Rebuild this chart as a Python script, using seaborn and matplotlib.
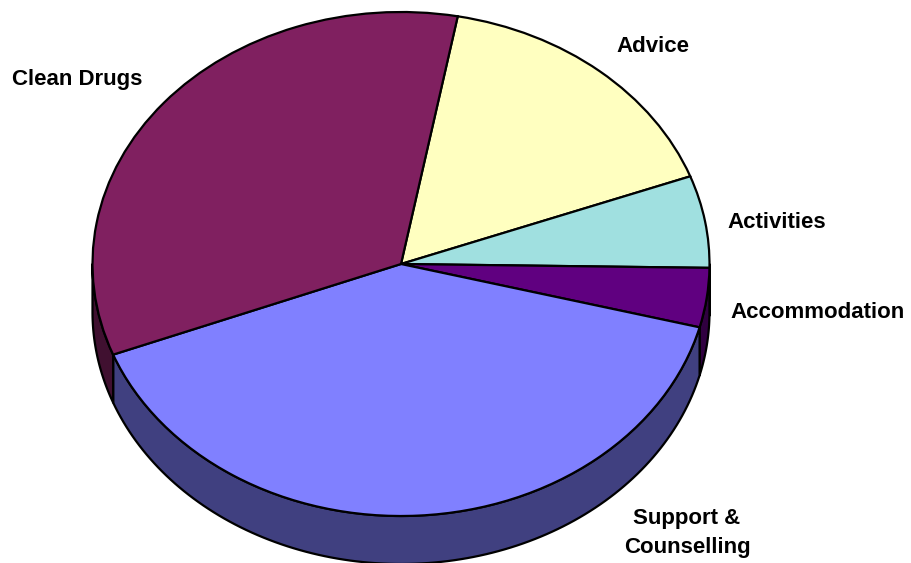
import numpy as np
import matplotlib
matplotlib.use("Agg")
import matplotlib.pyplot as plt
import seaborn as sns

# Shares of spending by service, clockwise from the Advice slice
categories = ["Advice", "Activities", "Accommodation", "Support &\nCounselling", "Clean Drugs"]
shares = [16.4, 5.9, 3.8, 40.1, 33.8]
face_colors = ["#FFFFC0", "#A0E0E0", "#600080", "#8080FF", "#802060"]
side_colors = ["#808060", "#507070", "#300040", "#404080", "#401030"]
label_x = [653, 777, 818, 687, 77]
label_y = [47, 223, 313, 533, 79]

FIRST_ANGLE = 10.6      # degrees clockwise from 12 o'clock
CX, CY = 401, 264       # pie centre in pixels
RX, RY = 308.5, 252     # ellipse radii in pixels
DEPTH = 48 / RY         # extrusion depth in y-radius units

sns.set_theme(style="white")
plt.rcParams["font.family"] = ["Liberation Sans", "DejaVu Sans"]

fig = plt.figure(figsize=(9.12, 5.63), dpi=100)
ax = fig.add_axes([0, 0, 1, 1])

total = sum(shares)
edges = FIRST_ANGLE + np.cumsum([0] + shares) * 360 / total

# Extruded rim: only the front half of the disc (90..270 degrees) is visible
for i, color in enumerate(side_colors):
    lo, hi = edges[i], edges[i + 1]
    for shift in (0, 360):
        a = max(lo - shift, 90)
        b = min(hi - shift, 270)
        if a >= b:
            continue
        t = np.radians(np.linspace(a, b, 120))
        x, y = np.sin(t), np.cos(t)
        ax.fill(np.r_[x, x[::-1]], np.r_[y, y[::-1] - DEPTH],
                facecolor=color, edgecolor="black", linewidth=1.6,
                joinstyle="round", zorder=1)

# Top face, drawn through the pie routine with a stretched axis
ax.pie(shares, colors=face_colors, startangle=90 - FIRST_ANGLE, counterclock=False,
       radius=1, wedgeprops=dict(edgecolor="black", linewidth=1.6, zorder=2))
ax.set_aspect("auto")
ax.set_xlim(-CX / RX, (912 - CX) / RX)
ax.set_ylim((CY - 563) / RY, CY / RY)
ax.set_axis_off()

for name, px, py in zip(categories, label_x, label_y):
    ax.text((px - CX) / RX, (CY - py) / RY, name, ha="center", va="center",
            fontsize=16, fontweight="bold", color="black", linespacing=1.5, zorder=3)

fig.savefig("out.png", dpi=100)
